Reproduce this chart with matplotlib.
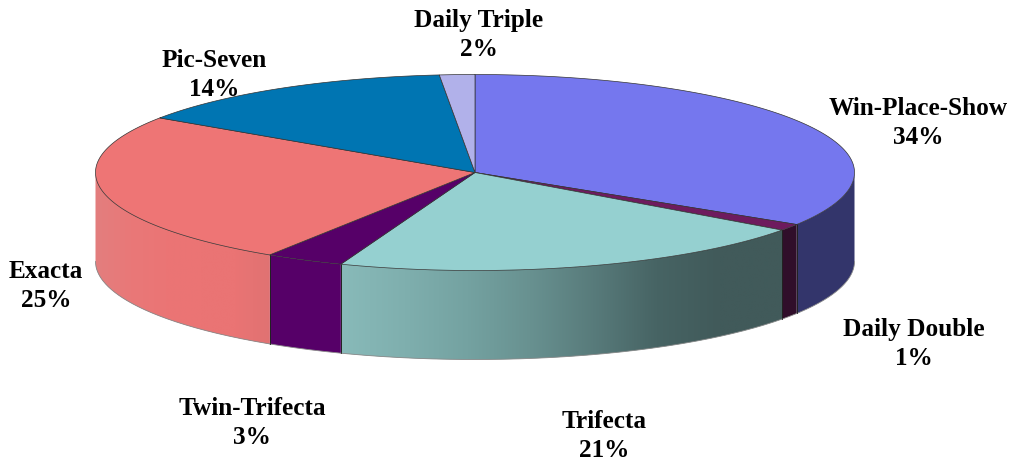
import numpy as np
import matplotlib
matplotlib.use("Agg")
import matplotlib.pyplot as plt
from matplotlib.patches import Polygon
from matplotlib.colors import LinearSegmentedColormap

categories = ["Win-Place-Show", "Daily Double", "Trifecta", "Twin-Trifecta", "Exacta", "Pic-Seven", "Daily Triple"]
values = [33.9, 1.1, 20.75, 3.35, 25.3, 14.1, 1.5]
pct_labels = ["34%", "1%", "21%", "3%", "25%", "14%", "2%"]
top_colors = ["#7577EE", "#6E1B5E", "#95D0D0", "#560068", "#EE7575", "#0075B2", "#B1B1EA"]
side_stops = [["#33356B"], ["#300E2A"],
              ["#88BAB9", "#7FAFAE", "#74A2A1", "#689190", "#587B7B", "#476464", "#415A5A", "#415A5A"],
              ["#560068"],
              ["#E37E7E", "#E97878", "#EB7575", "#EB7474", "#EA7474", "#E07272"],
              ["#0075B2"], ["#B1B1EA"]]
label_xy = [(918, 123), (914, 344), (604, 436), (252, 423), (46, 286), (214, 75), (479, 35)]

CX, CY, RX, RY, DEPTH = 475, 172.5, 379.5, 98, 89

fig = plt.figure(figsize=(10.10, 4.62), dpi=100)
ax = fig.add_axes([0, 0, 1, 1])
ax.set_xlim(0, 1010)
ax.set_ylim(462, 0)
ax.axis("off")

def rim(a0, a1, n=200):
    t = np.radians(np.linspace(a0, a1, n))
    return CX + RX * np.sin(t), CY - RY * np.cos(t)

edges = np.concatenate([[0], np.cumsum(values)]) * 3.6

# side walls, only the front half (90..270 degrees) is visible
for i in range(len(values)):
    a0, a1 = max(edges[i], 90), min(edges[i + 1], 270)
    if a0 >= a1:
        continue
    x, y = rim(a0, a1)
    verts = np.column_stack([np.r_[x, x[::-1]], np.r_[y, y[::-1] + DEPTH]])
    poly = Polygon(verts, closed=True, fc=side_stops[i][0], ec="none", zorder=2)
    ax.add_patch(poly)
    stops = side_stops[i]
    if len(stops) > 1:
        xmin, xmax = x.min(), x.max()
        cmap = LinearSegmentedColormap.from_list("g", stops)
        im = ax.imshow(np.linspace(0, 1, 256)[None, :], extent=(xmin, xmax, y.max() + DEPTH + 2, y.min() - 2),
                       cmap=cmap, aspect="auto", zorder=2.1, interpolation="bilinear")
        im.set_clip_path(poly)
    for a, xe, ye in ((a0, x[0], y[0]), (a1, x[-1], y[-1])):
        if a not in (90, 270):
            ax.plot([xe, xe], [ye, ye + DEPTH], color="#222222", lw=0.6, zorder=3)
    ax.plot(x, y + DEPTH, color="#8A8A8A", lw=0.6, zorder=3)

ax.set_xlim(0, 1010)
ax.set_ylim(462, 0)
ax.set_aspect("auto")

# top wedges
for i in range(len(values)):
    x, y = rim(edges[i], edges[i + 1])
    verts = np.column_stack([np.r_[CX, x], np.r_[CY, y]])
    ax.add_patch(Polygon(verts, closed=True, fc=top_colors[i], ec="#333333", lw=0.5, zorder=4))

# labels
for name, pct, (lx, ly) in zip(categories, pct_labels, label_xy):
    ax.text(lx, ly, f"{name}\n{pct}", ha="center", va="center", family="Liberation Serif",
            fontweight="bold", fontsize=18.2, color="black", linespacing=1.33, zorder=6)

fig.savefig("out.png", dpi=100)
